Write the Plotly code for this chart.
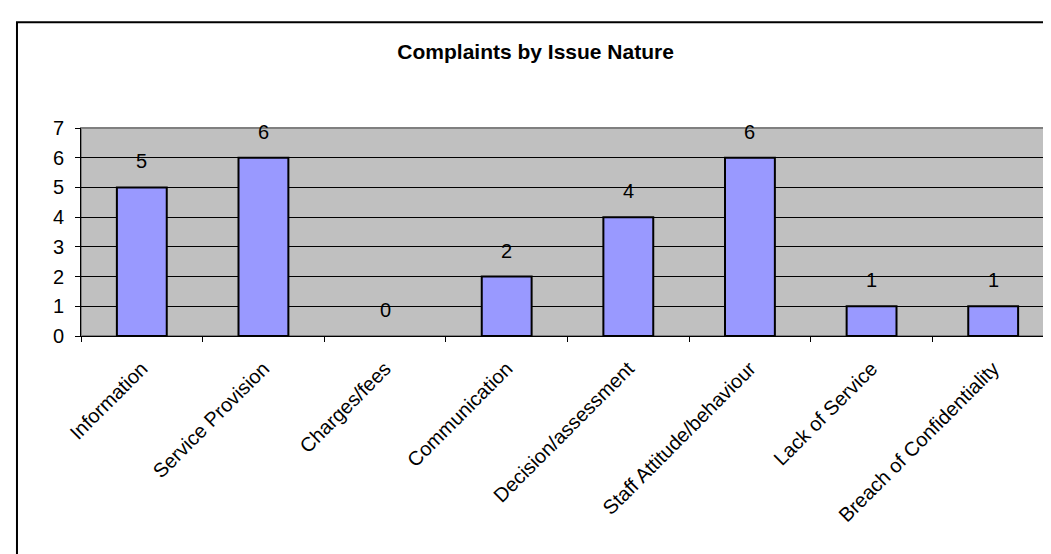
import plotly.graph_objects as go

categories = ["Information", "Service Provision", "Charges/fees", "Communication",
              "Decision/assessment", "Staff Attitude/behaviour", "Lack of Service",
              "Breach of Confidentiality"]
values = [5, 6, 0, 2, 4, 6, 1, 1]
y_ticks = [0, 1, 2, 3, 4, 5, 6, 7]
title_text = "Complaints by Issue Nature"

FONT = "Liberation Sans, Arial, sans-serif"

fig = go.Figure()
fig.add_trace(go.Bar(
    x=categories, y=values,
    width=0.41,
    marker=dict(color="#9999FF",
                line=dict(color="black", width=[2 if v > 0 else 0 for v in values])),
    hoverinfo="skip",
))

for c, v in zip(categories, values):
    fig.add_annotation(x=c, y=v, text=str(v), showarrow=False, yshift=26,
                       font=dict(family=FONT, size=20, color="black"))

# outer chart border
fig.add_shape(type="rect", xref="paper", yref="paper",
              x0=-0.0658, x1=1.05, y0=-1.3, y1=1.508,
              line=dict(color="black", width=2), fillcolor="rgba(0,0,0,0)", layer="above")
# plot area border (top/right gray)
fig.add_shape(type="rect", xref="paper", yref="paper",
              x0=0, x1=1, y0=0, y1=1,
              line=dict(color="#808080", width=2), fillcolor="rgba(0,0,0,0)", layer="below")

fig.update_layout(
    width=1051, height=554,
    margin=dict(l=73, r=5, t=120, b=226),
    paper_bgcolor="white", plot_bgcolor="#C0C0C0",
    showlegend=False,
    font=dict(family=FONT, size=20, color="black"),
    title=dict(text="<b>" + title_text + "</b>", xref="container", yref="container",
               x=0.502, y=1 - 44 / 554, xanchor="center", yanchor="middle",
               font=dict(family=FONT, size=21, color="black")),
    bargap=0.59,
)
fig.update_xaxes(
    type="category", showgrid=False,
    showline=True, linecolor="black", linewidth=1,
    ticks="outside", tickson="boundaries", ticklen=5, tickcolor="black",
    tickangle=-45, ticklabelstandoff=12,
    tickfont=dict(family=FONT, size=20, color="black"),
)
fig.update_yaxes(
    range=[0, 7], tickvals=y_ticks, ticktext=[str(t) for t in y_ticks],
    showgrid=True, gridcolor="black", gridwidth=1,
    showline=True, linecolor="black", linewidth=1,
    ticks="outside", ticklen=5, tickcolor="black",
    ticklabelstandoff=7, zeroline=False,
    tickfont=dict(family=FONT, size=20, color="black"),
)

fig.write_html("out.html")
